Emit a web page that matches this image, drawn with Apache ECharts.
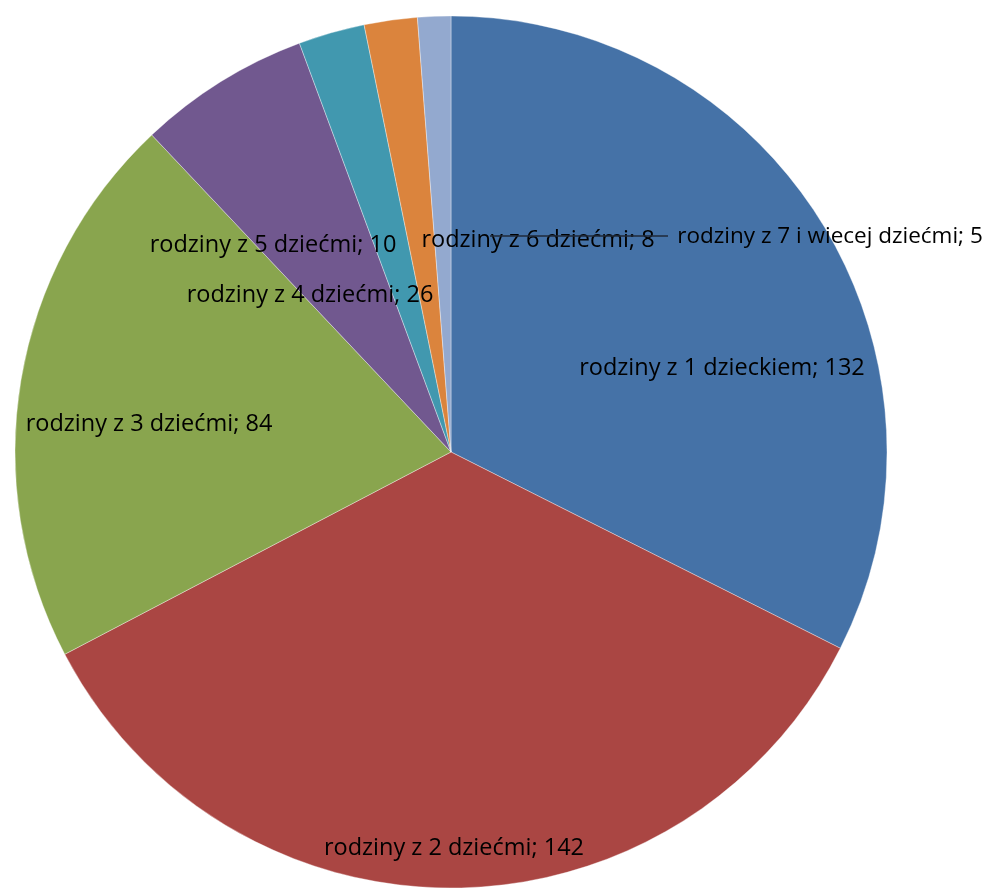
<!DOCTYPE html>
<html><head><meta charset="utf-8">
<script src="https://cdn.jsdelivr.net/npm/echarts@6/dist/echarts.min.js"></script>
<style>html,body{margin:0;padding:0;background:#fff}#c{width:1006px;height:889px}</style>
</head><body><div id="c"></div>
<script>
const categories = ["rodziny z 1 dzieckiem","rodziny z 2 dziećmi","rodziny z 3 dziećmi","rodziny z 4 dziećmi","rodziny z 5 dziećmi","rodziny z 6 dziećmi","rodziny z 7 i wiecej dziećmi"];
const values = [132,142,84,26,10,8,5];
const colors = ['#4572A7','#AA4643','#89A54E','#71588F','#4198AF','#DB843D','#93A9CF'];
// label centre positions (layout only)
const labelPos = [[722,368],[454,848],[149,424],[310,295],[273,245],[538,240],[830,237]];

const chart = echarts.init(document.getElementById('c'));
chart.setOption({
  animation:false,
  graphic:[{type:'line',z:100,shape:{x1:490,y1:236,x2:668,y2:236},
    style:{stroke:'#1f2a3a',lineWidth:1.3}}],
  series:[{
    type:'pie',
    center:[451,452],
    radius:436,
    startAngle:90,
    clockwise:true,
    avoidLabelOverlap:false,
    itemStyle:{borderColor:'rgba(255,255,255,0.6)',borderWidth:0.6},
    label:{show:true,position:'inside',color:'#000',fontFamily:'Open Sans',fontSize:23.5,
      formatter:p=>p.name+'; '+p.value},
    labelLine:{show:false},
    emphasis:{disabled:true},
    data: categories.map((n,i)=>({name:n,value:values[i],itemStyle:{color:colors[i]},
      label: i===6?{fontSize:22.5}:undefined})),
    labelLayout: function(p){
      const pos = labelPos[p.dataIndex];
      return {x:pos[0], y:pos[1], align:'center', verticalAlign:'middle'};
    }
  }]
});
</script></body></html>
